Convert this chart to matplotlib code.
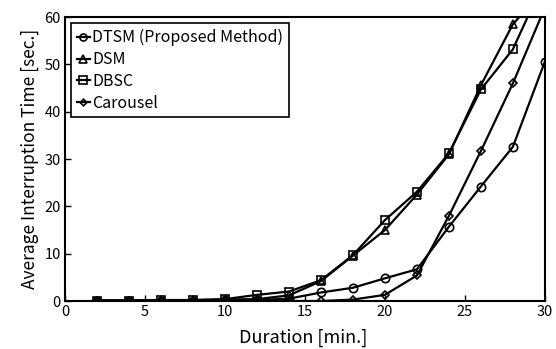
import matplotlib
matplotlib.use('Agg')
import matplotlib.pyplot as plt

duration = [2, 4, 6, 8, 10, 12, 14, 16, 18, 20, 22, 24, 26, 28, 30]
dtsm = [0.1, 0.1, 0.1, 0.1, 0.2, 0.2, 0.5, 1.8, 2.8, 4.8, 6.7, 15.7, 24.2, 32.6, 50.6]
dsm = [0.1, 0.1, 0.2, 0.2, 0.3, 0.4, 1.2, 4.2, 9.6, 15.0, 22.5, 31.0, 45.6, 58.5, 66.0]
dbsc = [0.1, 0.1, 0.2, 0.2, 0.4, 1.3, 2.0, 4.4, 9.7, 17.1, 23.1, 31.2, 44.7, 53.2, 68.0]
carousel = [0.0, 0.0, 0.0, 0.0, 0.0, 0.0, 0.0, 0.0, 0.3, 1.3, 5.4, 18.0, 31.7, 46.0, 62.0]

series = [
    ('DTSM (Proposed Method)', dtsm, 'o', 6),
    ('DSM', dsm, '^', 6),
    ('DBSC', dbsc, 's', 6),
    ('Carousel', carousel, 'D', 4),
]

plt.rcParams['font.family'] = ['Noto Sans CJK JP', 'DejaVu Sans']

fig = plt.figure(figsize=(5.56, 3.49), dpi=100)
ax = fig.add_axes([0.117, 0.1375, 0.863, 0.8135])

for name, vals, mk, ms in series:
    ax.plot(duration, vals, color='black', lw=1.6, marker=mk, ms=ms,
            mfc='none', mec='black', mew=1.2, label=name)

ax.set_xlim(0, 30)
ax.set_ylim(0, 60)
ax.set_xticks([0, 5, 10, 15, 20, 25, 30])
ax.set_yticks([0, 10, 20, 30, 40, 50, 60])
ax.tick_params(direction='in', labelsize=10.5, length=4, width=1, pad=3)
for s in ax.spines.values():
    s.set_linewidth(1.5)
ax.set_ylabel('Average Interruption Time [sec.]', fontsize=12.5, labelpad=4)
# x label placed just under the tick labels
fig.text(0.545, 0.005, 'Duration [min.]', fontsize=13, ha='center', va='bottom')

leg = ax.legend(loc='upper left', fontsize=11.5, handlelength=0.8, handletextpad=0.15,
                markerscale=0.85, fancybox=False, framealpha=1, edgecolor='black',
                borderpad=0.35, labelspacing=0.3, borderaxespad=0.4)
leg.get_frame().set_linewidth(1.2)

fig.savefig('out.png', dpi=100)
